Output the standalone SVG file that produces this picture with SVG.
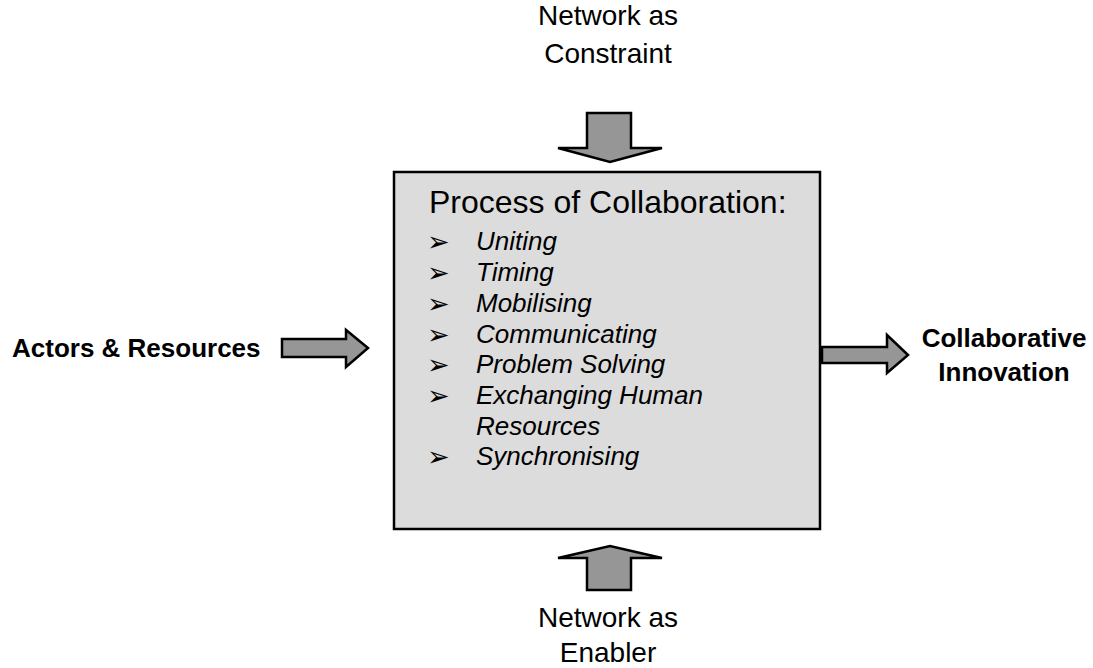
<svg xmlns="http://www.w3.org/2000/svg" width="1093" height="668" viewBox="0 0 1093 668">
<style>
.lbl{font-family:"Liberation Sans",Arial,sans-serif;font-size:28px;fill:#000;text-anchor:middle}
.bold{font-family:"Liberation Sans",Arial,sans-serif;font-size:26px;font-weight:bold;fill:#000}
.title{font-family:"Liberation Sans",Arial,sans-serif;font-size:32px;fill:#000}
.item{font-family:"Liberation Sans",Arial,sans-serif;font-size:26px;font-style:italic;fill:#000}
.bul{font-family:"DejaVu Sans",sans-serif;font-size:27px;fill:#000}
.arrow{fill:#969696;stroke:#000;stroke-width:2.5;stroke-linejoin:miter}
</style>
<rect width="1093" height="668" fill="#fff"/>
<g id="process">
<rect x="394" y="172" width="426" height="357" fill="#dcdcdc" stroke="#000" stroke-width="2.5"/>
<text class="title" x="429" y="213">Process of Collaboration:</text>
<g class="bul">
<text x="427" y="251">➢</text>
<text x="427" y="282">➢</text>
<text x="427" y="313">➢</text>
<text x="427" y="344">➢</text>
<text x="427" y="374">➢</text>
<text x="427" y="405">➢</text>
<text x="427" y="466">➢</text>
</g>
<g class="item">
<text x="476" y="250">Uniting</text>
<text x="476" y="281">Timing</text>
<text x="476" y="312">Mobilising</text>
<text x="476" y="343">Communicating</text>
<text x="476" y="373">Problem Solving</text>
<text x="476" y="404">Exchanging Human</text>
<text x="476" y="435">Resources</text>
<text x="476" y="465">Synchronising</text>
</g>
</g>
<g id="constraint">
<text class="lbl" x="608" y="25">Network as</text>
<text class="lbl" x="608" y="63">Constraint</text>
</g>
<g id="enabler">
<text class="lbl" x="608" y="627">Network as</text>
<text class="lbl" x="608" y="662">Enabler</text>
</g>
<g id="actors">
<text class="bold" x="12" y="357">Actors &amp; Resources</text>
</g>
<g id="innovation">
<text class="bold" x="1004" y="347" text-anchor="middle">Collaborative</text>
<text class="bold" x="1004" y="381" text-anchor="middle">Innovation</text>
</g>
<g id="connectors">
<polygon class="arrow" points="587,113 631,113 631,148 662,148 610,162 558,148 587,148"/>
<polygon class="arrow" points="587,590 631,590 631,558 662,558 610,546 558,558 587,558"/>
<polygon class="arrow" points="282,339 346,339 346,330 368,348 346,367 346,357 282,357"/>
<polygon class="arrow" points="822,347 887,347 887,335 908,355 887,373 887,363 822,363"/>
</g>
</svg>
